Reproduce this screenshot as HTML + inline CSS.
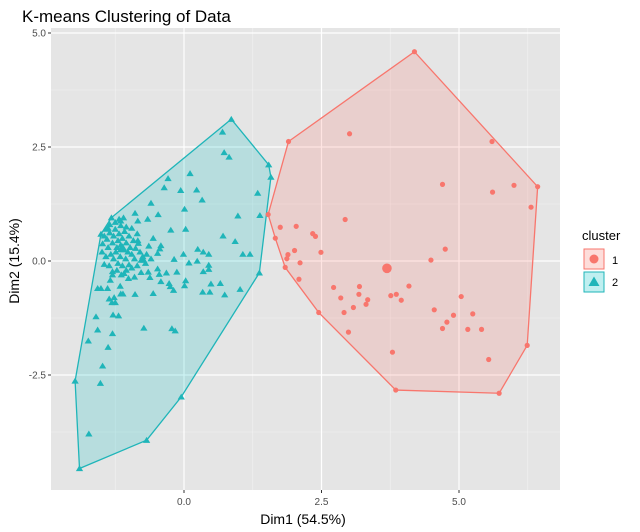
<!DOCTYPE html>
<html><head><meta charset="utf-8"><style>
body{margin:0;background:#fff;width:640px;height:532px;overflow:hidden}
svg{display:block;font-family:"Liberation Sans",sans-serif}
</style></head><body>
<svg id="chart" width="640" height="532">
<text x="22" y="22" font-size="17" fill="#000">K-means Clustering of Data</text>
<rect x="51" y="28" width="509" height="462" fill="#e5e5e5"/>
<g id="grid"></g><g id="hulls"></g><g id="pts"></g><g id="axes"></g>
<text x="303" y="524" font-size="14" text-anchor="middle">Dim1 (54.5%)</text>
<text transform="translate(19,261) rotate(-90)" font-size="14" text-anchor="middle">Dim2 (15.4%)</text>
<g>
<text x="582" y="240" font-size="13">cluster</text>
<g><rect x="584" y="249" width="20" height="20" fill="#f8766d" fill-opacity="0.25" stroke="#f8766d" stroke-width="1"/><circle cx="594" cy="259" r="4.5" fill="#f8766d"/><text x="612" y="264" font-size="11">1</text></g>
<g><rect x="584" y="272" width="20" height="20" fill="#00bfc4" fill-opacity="0.25" stroke="#1fb5b9" stroke-width="1"/><polygon points="594,276.5 599.5,286 588.5,286" fill="#1fb5b9"/><text x="612" y="286" font-size="11">2</text></g>
</g>
</svg>
<script>
const xTicks=[0,2.5,5.0];
const yTicks=[-2.5,0,2.5,5.0];
const xTickLabels=["0.0","2.5","5.0"];
const yTickLabels=["-2.5","0.0","2.5","5.0"];
const c1x=[4.19,1.90,3.01,5.60,6.43,4.70,5.61,6.00,6.31,1.53,2.93,1.75,2.04,2.34,2.39,1.66,2.49,2.01,1.89,1.87,2.11,1.84,4.75,4.49,2.09,2.72,3.19,2.85,3.18,3.34,3.31,3.08,2.91,2.45,2.99,3.76,3.86,3.95,4.09,3.79,3.85,5.73,6.24,5.54,5.04,4.55,4.90,5.25,4.78,4.70,5.16,5.41];
const c1y=[4.59,2.62,2.79,2.62,1.63,1.68,1.51,1.66,1.18,1.02,0.91,0.74,0.76,0.60,0.54,0.50,0.19,0.23,0.14,0.05,-0.04,-0.14,0.26,0.02,-0.40,-0.58,-0.56,-0.81,-0.73,-0.85,-0.95,-1.02,-1.13,-1.13,-1.56,-0.76,-0.73,-0.86,-0.55,-2.00,-2.83,-2.90,-1.85,-2.16,-0.78,-1.07,-1.19,-1.16,-1.34,-1.48,-1.50,-1.50];
const c2x=[0.86,0.70,0.73,0.82,1.54,1.58,0.11,-0.29,-0.36,-0.06,0.23,0.33,1.34,-0.60,0.01,-0.89,-0.47,-0.66,-0.84,0.98,1.38,-1.15,-1.38,-1.51,-0.24,0.03,0.71,0.93,-0.56,-0.84,-0.42,-0.44,-0.48,-0.64,0.25,0.35,0.45,1.07,1.20,-0.01,-0.18,0.24,0.09,0.45,0.45,0.35,-0.13,-0.32,1.37,-0.48,-0.60,-0.73,-0.65,-0.45,-0.62,0.66,0.49,0.74,1.02,0.34,0.47,0.03,0.01,-0.27,-0.25,-0.19,-0.42,-0.56,-0.89,-0.73,-0.22,-0.16,-1.39,-1.51,-1.60,-1.29,-1.19,-1.31,-1.25,-1.27,-1.36,-1.15,-1.57,-1.30,-1.74,-1.38,-1.48,-1.52,-1.98,-1.73,-1.90,-0.68,-0.05,-1.57,-1.11,-1.49,-1.45,-1.34,-1.16,-1.01,-1.30,-1.09,-0.78,-0.83,-1.45,-1.40,-1.35,-1.30,-1.28,-1.25,-1.22,-1.20,-1.18,-1.15,-1.12,-1.10,-1.08,-1.05,-1.02,-1.00,-0.98,-0.95,-0.92,-0.90,-0.88,-0.85,-1.38,-1.33,-1.28,-1.24,-1.20,-1.16,-1.12,-1.06,-1.00,-0.95,-0.80,-0.75,-0.70,-0.68,-1.42,-1.35,-1.25,-1.15,-1.05,-0.95,-1.48,-1.42,-1.36,-1.30,-1.22,-1.14,-1.05,-0.90,-0.85,-0.78,-1.18,-1.10,-1.32];
const c2y=[3.11,2.83,2.38,2.28,2.11,1.84,1.92,1.81,1.61,1.55,1.56,1.34,1.49,1.27,1.14,1.05,1.02,0.92,0.88,0.99,1.00,0.88,0.72,0.59,0.68,0.70,0.55,0.43,0.50,0.45,0.34,0.27,0.17,0.33,0.26,0.20,0.15,0.15,0.15,0.15,0.04,0.00,-0.04,-0.09,-0.18,-0.23,-0.24,-0.26,-0.26,-0.17,0.05,0.02,-0.24,-0.29,-0.36,-0.49,-0.50,-0.74,-0.62,-0.68,-0.68,-0.43,-0.54,-0.49,-0.56,-0.64,-0.45,-0.71,-0.73,-1.47,-1.48,-1.53,-0.60,-0.60,-1.22,-1.18,-1.20,-0.91,-0.91,-0.80,-0.83,-0.72,-1.51,-1.59,-1.75,-1.89,-2.30,-2.68,-2.63,-3.79,-4.55,-3.93,-2.98,-0.60,-0.72,0.20,-0.07,-0.42,-0.55,-0.38,-0.23,-0.27,0.02,0.39,0.55,0.48,0.62,0.40,0.55,0.70,0.30,0.45,0.60,0.35,0.50,0.25,0.65,0.40,0.20,0.55,0.30,0.15,0.45,0.05,0.28,0.60,0.30,0.15,0.05,0.20,-0.05,0.10,-0.10,0.05,-0.08,-0.15,0.20,0.10,-0.05,0.15,0.70,0.80,0.85,0.78,0.75,0.72,0.38,0.10,-0.10,-0.30,-0.20,-0.30,-0.20,-0.35,-0.10,-0.25,0.92,0.95,0.95];
const cent1=[3.69,-0.16];
const cent2=[-1.12,0.28];

const X=v=>184+v*55, Y=v=>261-v*45.6;
const NS="http://www.w3.org/2000/svg";
function mk(t,a,p){const e=document.createElementNS(NS,t);for(const k in a)e.setAttribute(k,a[k]);p.appendChild(e);return e;}
const grid=document.getElementById('grid'),axes=document.getElementById('axes');
// minor grid
const xMinor=[-1.25,1.25,3.75,6.25], yMinor=[-3.75,-1.25,1.25,3.75];
xMinor.forEach(v=>{const l=mk('line',{x1:X(v),x2:X(v),y1:28,y2:490,stroke:'#f2f2f2','stroke-width':0.6},grid);

});
yMinor.forEach(v=>{const l=mk('line',{x1:51,x2:560,y1:Y(v),y2:Y(v),stroke:'#f2f2f2','stroke-width':0.6},grid);

});
xTicks.forEach((v,i)=>{const l=mk('line',{x1:X(v),x2:X(v),y1:28,y2:490,stroke:'#fff','stroke-width':1.2},grid);


mk('line',{x1:X(v),x2:X(v),y1:490,y2:493,stroke:'#333'},axes);
const t=mk('text',{x:X(v),y:505,'font-size':10,'text-anchor':'middle',fill:'#4d4d4d'},axes);t.textContent=xTickLabels[i];

});
yTicks.forEach((v,i)=>{const l=mk('line',{x1:51,x2:560,y1:Y(v),y2:Y(v),stroke:'#fff','stroke-width':1.2},grid);


mk('line',{x1:48,x2:51,y1:Y(v),y2:Y(v),stroke:'#333'},axes);
const t=mk('text',{x:46,y:Y(v)+3.5,'font-size':10,'text-anchor':'end',fill:'#4d4d4d'},axes);t.textContent=yTickLabels[i];

});
function hull(xs,ys){const p=xs.map((x,i)=>[x,ys[i]]).sort((a,b)=>a[0]-b[0]||a[1]-b[1]);
const cr=(o,a,b)=>(a[0]-o[0])*(b[1]-o[1])-(a[1]-o[1])*(b[0]-o[0]);
const lo=[],up=[];for(const q of p){while(lo.length>=2&&cr(lo[lo.length-2],lo[lo.length-1],q)<=0)lo.pop();lo.push(q);}
for(let i=p.length-1;i>=0;i--){const q=p[i];while(up.length>=2&&cr(up[up.length-2],up[up.length-1],q)<=0)up.pop();up.push(q);}
up.pop();lo.pop();return lo.concat(up);}
const hg=document.getElementById('hulls'),pg=document.getElementById('pts');
const h1=hull(c1x,c1y),h2=hull(c2x,c2y);
const p1=mk('polygon',{points:h1.map(q=>X(q[0])+','+Y(q[1])).join(' '),fill:'#f8766d','fill-opacity':0.2,stroke:'#f8766d','stroke-width':1.3},hg);


const p2=mk('polygon',{points:h2.map(q=>X(q[0])+','+Y(q[1])).join(' '),fill:'#00bfc4','fill-opacity':0.2,stroke:'#1fb5b9','stroke-width':1.3},hg);


c1x.forEach((v,i)=>{const c=mk('circle',{cx:X(v),cy:Y(c1y[i]),r:2.6,fill:'#f8766d'},pg);

});
function tri(x,y,s,name){const t=mk('polygon',{points:`${x},${y-s} ${x+s*1.1},${y+s*0.8} ${x-s*1.1},${y+s*0.8}`,fill:'#1fb5b9'},pg);

}
c2x.forEach((v,i)=>tri(X(v),Y(c2y[i]),3.3,'cluster-2-point'));
const cc=mk('circle',{cx:X(cent1[0]),cy:Y(cent1[1]),r:4.8,fill:'#f8766d'},pg);


tri(X(cent2[0]),Y(cent2[1]),5,'cluster-2-center');
</script>
</body></html>
